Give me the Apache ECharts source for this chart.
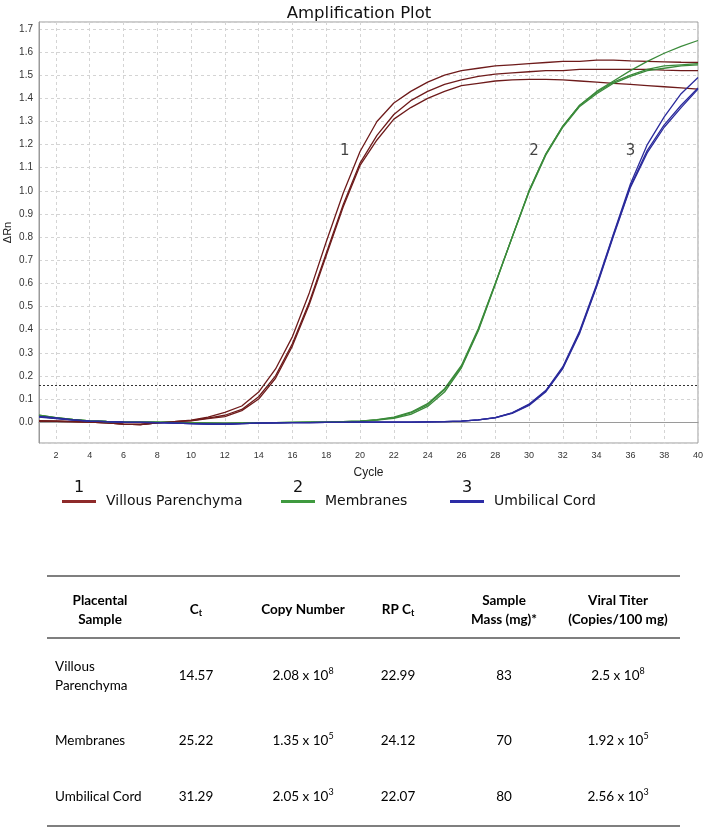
<!DOCTYPE html>
<html><head><meta charset="utf-8">
<script src="https://cdn.jsdelivr.net/npm/echarts@6/dist/echarts.min.js"></script>
<style>html,body{margin:0;padding:0;background:#fff}#c{width:703px;height:830px}</style>
</head><body><div id="c"></div>
<script>
// ---------- DATA ----------
const cycles = [1,2,3,4,5,6,7,8,9,10,11,12,13,14,15,16,17,18,19,20,21,22,23,24,25,26,27,28,29,30,31,32,33,34,35,36,37,38,39,40];
// Villous Parenchyma (3 replicates)
const villous1 = [0.005,0.004,0.002,0.000,-0.003,-0.008,-0.010,-0.003,0.002,0.009,0.022,0.042,0.070,0.130,0.230,0.370,0.560,0.780,0.990,1.170,1.300,1.380,1.430,1.470,1.500,1.520,1.530,1.540,1.545,1.550,1.555,1.560,1.560,1.565,1.565,1.562,1.560,1.558,1.556,1.555];
const villous2 = [0.005,0.004,0.002,0.000,-0.003,-0.008,-0.010,-0.003,0.002,0.007,0.018,0.030,0.055,0.110,0.200,0.340,0.520,0.730,0.940,1.120,1.240,1.330,1.390,1.430,1.460,1.480,1.495,1.505,1.510,1.515,1.520,1.520,1.525,1.525,1.525,1.525,1.525,1.522,1.520,1.520];
const villous3 = [0.005,0.004,0.002,0.000,-0.003,-0.008,-0.010,-0.003,0.002,0.006,0.015,0.024,0.050,0.100,0.190,0.330,0.510,0.720,0.930,1.110,1.220,1.310,1.360,1.400,1.430,1.455,1.465,1.475,1.480,1.482,1.482,1.480,1.475,1.470,1.465,1.460,1.455,1.450,1.445,1.440];
// Membranes (3 replicates)
const membranes1 = [0.030,0.020,0.012,0.006,0.003,0.001,0.000,0.000,-0.002,-0.003,-0.004,-0.005,-0.004,-0.003,-0.002,-0.001,0.000,0.000,0.002,0.005,0.011,0.022,0.043,0.080,0.145,0.245,0.405,0.600,0.800,1.000,1.160,1.280,1.370,1.430,1.475,1.520,1.560,1.595,1.625,1.650];
const membranes2 = [0.030,0.020,0.012,0.006,0.003,0.001,0.000,0.000,-0.002,-0.003,-0.004,-0.005,-0.004,-0.003,-0.002,-0.001,0.000,0.000,0.002,0.004,0.009,0.017,0.034,0.068,0.130,0.235,0.395,0.595,0.800,1.000,1.160,1.280,1.370,1.425,1.470,1.500,1.525,1.540,1.545,1.550];
const membranes3 = [0.028,0.019,0.011,0.006,0.003,0.001,0.000,0.000,-0.002,-0.003,-0.004,-0.005,-0.004,-0.003,-0.002,-0.001,0.000,0.000,0.002,0.004,0.010,0.020,0.040,0.075,0.140,0.240,0.400,0.598,0.798,0.995,1.155,1.275,1.365,1.420,1.465,1.495,1.520,1.530,1.540,1.545];
// Umbilical Cord (3 replicates)
const umbilical1 = [0.025,0.018,0.010,0.005,0.002,0.000,-0.001,-0.002,-0.004,-0.006,-0.008,-0.009,-0.006,-0.004,-0.003,-0.002,-0.002,-0.001,-0.001,0.000,0.000,0.000,0.000,0.001,0.002,0.005,0.010,0.020,0.040,0.078,0.138,0.240,0.395,0.595,0.815,1.030,1.200,1.320,1.420,1.490];
const umbilical2 = [0.024,0.017,0.010,0.005,0.002,0.000,-0.001,-0.002,-0.004,-0.006,-0.008,-0.009,-0.006,-0.004,-0.003,-0.002,-0.002,-0.001,-0.001,0.000,0.000,0.000,0.000,0.001,0.002,0.005,0.010,0.020,0.040,0.075,0.135,0.235,0.390,0.590,0.810,1.020,1.175,1.285,1.370,1.445];
const umbilical3 = [0.022,0.016,0.009,0.005,0.002,0.000,-0.001,-0.002,-0.004,-0.006,-0.008,-0.009,-0.006,-0.004,-0.003,-0.002,-0.002,-0.001,-0.001,0.000,0.000,0.000,0.000,0.001,0.002,0.005,0.010,0.019,0.038,0.072,0.132,0.232,0.385,0.585,0.805,1.015,1.165,1.275,1.360,1.440];
const threshold = 0.163;
const groupNames = ['Villous Parenchyma','Membranes','Umbilical Cord'];
const groupNumbers = ['1','2','3'];
const curveLabelPos = [[19.1,1.17],[30.3,1.17],[36.0,1.17]];
// Table
const tableHeaders = ['Placental\nSample','C{t|t}','Copy Number','RP C{t|t}','Sample\nMass (mg)*','Viral Titer\n(Copies/100 mg)'];
const tableSamples = ['Villous\nParenchyma','Membranes','Umbilical Cord'];
const tableCt = ['14.57','25.22','31.29'];
const tableCopyMantissa = ['2.08','1.35','2.05'];
const tableCopyExponent = ['8','5','3'];
const tableRPCt = ['22.99','24.12','22.07'];
const tableMass = ['83','70','80'];
const tableTiterMantissa = ['2.5','1.92','2.56'];
const tableTiterExponent = ['8','5','3'];

// ---------- STYLE ----------
const colors = ['#6e1b1b','#3b8b3b','#2b2b9c'];
const legendColors = ['#8e2a2a','#3f9a3f','#2c2ca6'];
const groups = [[villous1,villous2,villous3],[membranes1,membranes2,membranes3],[umbilical1,umbilical2,umbilical3]];

const series = [];
groups.forEach((g, gi) => {
  g.forEach((vals, ri) => {
    series.push({
      type: 'line', name: groupNames[gi], showSymbol: false, silent: true,
      data: cycles.map((c, i) => [c, vals[i]]),
      lineStyle: {color: colors[gi], width: 1.3}, itemStyle: {color: colors[gi]},
      z: 3 + gi
    });
  });
});
series[0].markLine = {
  silent: true, symbol: ['none','none'], label: {show: false},
  lineStyle: {type: [2,2], color: '#333', width: 1}, data: [{yAxis: threshold}]
};
series.push({
  type: 'scatter', symbolSize: 0, silent: true,
  data: curveLabelPos.map((p, i) => ({value: p, name: groupNumbers[i]})),
  label: {show: true, position: 'inside', formatter: p => p.name, fontFamily: 'DejaVu Sans', fontSize: 15, color: '#111'}
});

const graphic = [];
// legend
const legendLineX = [62, 281, 450];
legendLineX.forEach((x, i) => {
  graphic.push({type: 'line', shape: {x1: x, y1: 501.5, x2: x + 34, y2: 501.5}, style: {stroke: legendColors[i], lineWidth: 3}});
  graphic.push({type: 'text', x: x + 17, y: 496, style: {text: groupNumbers[i], font: '16px "DejaVu Sans"', fill: '#111', align: 'center', verticalAlign: 'bottom'}});
  graphic.push({type: 'text', x: x + 44, y: 501, style: {text: groupNames[i], font: '14px "DejaVu Sans"', fill: '#111', align: 'left', verticalAlign: 'middle'}});
});
// table
const tf = 'Lato';
const colX = [100, 196, 303, 398, 504, 618];
const rowY = [676, 741, 797];
[576, 638, 826].forEach(y => graphic.push({type: 'line', shape: {x1: 47, y1: y, x2: 680, y2: y}, style: {stroke: '#7f7f7f', lineWidth: 2}}));
const richBase = (bold) => ({
  n: {fontFamily: tf, fontSize: 13.5, fontWeight: bold ? 'bold' : 'normal', color: '#111', lineHeight: 19},
  t: {fontFamily: tf, fontSize: 9, fontWeight: bold ? 'bold' : 'normal', color: '#111', padding: [7,0,0,0]},
  s: {fontFamily: tf, fontSize: 9, color: '#111', padding: [0,0,9,0]}
});
tableHeaders.forEach((h, i) => {
  const txt = h.split('\n').map(l => l.replace(/^([^{]+)/, '{n|$1}')).join('\n');
  graphic.push({type: 'text', x: colX[i], y: 610, style: {text: txt, rich: richBase(true), align: 'center', verticalAlign: 'middle'}});
});
rowY.forEach((y, r) => {
  graphic.push({type: 'text', x: 55, y: y, style: {text: tableSamples[r].split('\n').map(l => '{n|' + l + '}').join('\n'), rich: richBase(false), align: 'left', verticalAlign: 'middle'}});
  const cells = [
    '{n|' + tableCt[r] + '}',
    '{n|' + tableCopyMantissa[r] + ' x 10}{s|' + tableCopyExponent[r] + '}',
    '{n|' + tableRPCt[r] + '}',
    '{n|' + tableMass[r] + '}',
    '{n|' + tableTiterMantissa[r] + ' x 10}{s|' + tableTiterExponent[r] + '}'
  ];
  cells.forEach((c, k) => graphic.push({type: 'text', x: colX[k + 1], y: y, style: {text: c, rich: richBase(false), align: 'center', verticalAlign: 'middle'}}));
});

const chart = echarts.init(document.getElementById('c'), null, {renderer: 'canvas'});
chart.setOption({
  animation: false,
  backgroundColor: '#fff',
  title: {text: 'Amplification Plot', left: 354, top: 0, textAlign: 'center',
    textStyle: {fontFamily: 'DejaVu Sans', fontSize: 16.5, fontWeight: 'normal', color: '#111'}},
  grid: {left: 39, right: 5, top: 22, bottom: 387, show: true, borderColor: '#9a9a9a', borderWidth: 1, containLabel: false, outerBoundsMode: 'none'},
  xAxis: {
    type: 'value', min: 1, max: 40, splitNumber: 20,
    name: 'Cycle', nameLocation: 'middle', nameGap: 24,
    nameTextStyle: {fontFamily: 'Liberation Sans', fontSize: 12, color: '#222'},
    axisLine: {show: true, lineStyle: {color: '#9a9a9a'}}, axisTick: {show: false},
    axisLabel: {showMinLabel: false, fontFamily: 'Liberation Sans', fontSize: 9, color: '#333', margin: 8},
    splitLine: {show: true, lineStyle: {type: [3,3], color: '#d4d4d4'}}
  },
  yAxis: {
    type: 'value', min: -0.09, max: 1.73, splitNumber: 18,
    name: 'ΔRn', nameLocation: 'middle', nameGap: 25.5, nameRotate: 90, nameMoveOverlap: false,
    nameTextStyle: {fontFamily: 'Liberation Sans', fontSize: 11, color: '#222'},
    axisLine: {show: true, lineStyle: {color: '#9a9a9a'}}, axisTick: {show: false},
    axisLabel: {showMinLabel: false, showMaxLabel: false, formatter: v => v.toFixed(1), fontFamily: 'Liberation Sans', fontSize: 10, color: '#333', margin: 6},
    splitLine: {show: true, lineStyle: {type: [3,3], color: '#d4d4d4'}}
  },
  series: series,
  graphic: graphic
});
</script></body></html>
